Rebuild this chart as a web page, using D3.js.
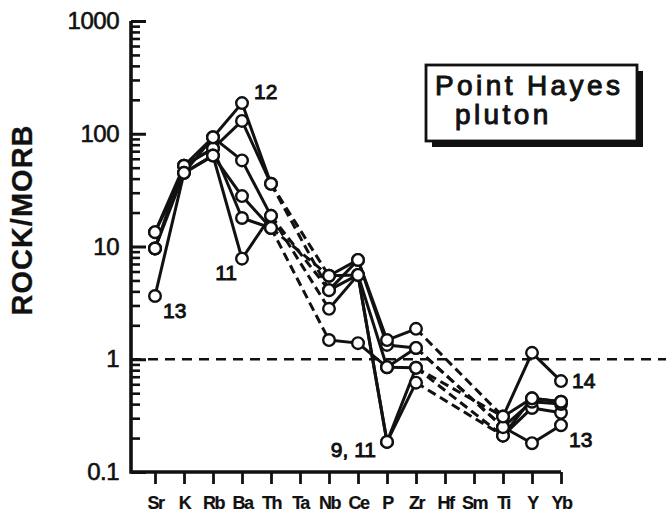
<!DOCTYPE html>
<html>
<head>
<meta charset="utf-8">
<script src="https://cdn.jsdelivr.net/npm/d3@7"></script>
<style>
  body { margin: 0; background: #fff; }
  svg { display: block; }
  text { stroke: #111; stroke-width: 0.6px; }
</style>
</head>
<body>
<div id="spider"></div>
<script>
//Elements along the x axis (Ta, Hf and Sm have no analyses)
var elements = ["Sr", "K", "Rb", "Ba", "Th", "Ta", "Nb", "Ce", "P", "Zr", "Hf", "Sm", "Ti", "Y", "Yb"];

//Rock / MORB ratios for each sample, in element order (null = not analysed)
var sample9  = [9.6, 52, 74, 17.9, 14.6, null, 5.5, 5.6, 0.185, 0.62, null, null, 0.21, 0.37, 0.335];
var sample10 = [9.6, 52, 74, 130, 36, null, 4.1, 7.6, 1.34, 1.26, null, null, 0.25, 0.42, 0.40];
var sample11 = [9.6, 45, 64, 7.8, 18.7, null, 4.1, 5.6, 0.185, 0.84, null, null, 0.21, 0.45, 0.42];
var sample12 = [13.4, 52, 93, 187, 36, null, 5.5, 7.6, 1.48, 1.86, null, null, 0.31, 0.45, 0.42];
var sample13 = [3.64, 45, 64, 28, 14.6, null, 1.48, 1.39, 0.85, 1.26, null, null, 0.25, 0.18, 0.26];
var sample14 = [13.4, 45, 93, 58, 18.7, null, 2.8, 5.6, 0.85, 0.84, null, null, 0.31, 1.14, 0.64];

var samples = [sample9, sample10, sample11, sample12, sample13, sample14];

//Axis tick values
var majorTicks = [0.1, 1, 10, 100, 1000];
var majorLabels = ["0.1", "1", "10", "100", "1000"];

//Sample annotations: text, sample it belongs to, element it sits next to
var noteText = ["12", "11", "13", "9, 11", "14", "13"];
var noteSample = [sample12, sample11, sample13, sample11, sample14, sample13];
var noteElement = ["Ba", "Ba", "Sr", "P", "Yb", "Yb"];

//Legend text
var legendLines = ["Point Hayes", "pluton"];

//Canvas dimensions
var width = 666,
    height = 514;

var svg = d3.select("#spider")
            .append("svg")
            .attr("width", width)
            .attr("height", height);

//Scales
var x = d3.scalePoint().domain(elements).range([155, 561]);
var y = d3.scaleLog().domain([0.1, 1000]).range([472, 21]);
var axisX = 131;

//Minor ticks 2..9 in each decade
var minorTicks = [];
majorTicks.slice(0, -1).forEach(function(t) {
  for (var k = 2; k <= 9; k++) minorTicks.push(t * k);
});

//Reference line at rock = MORB
svg.append("line")
   .attr("x1", axisX).attr("x2", width)
   .attr("y1", y(1)).attr("y2", y(1))
   .attr("stroke", "#111")
   .attr("stroke-width", 2.4)
   .attr("stroke-dasharray", "10,7");

//Y axis: ticks point inward
svg.append("g")
   .attr("transform", "translate(" + axisX + ",0)")
   .call(d3.axisRight(y).tickValues(minorTicks).tickSize(9).tickFormat(""))
   .call(function(g) { g.select(".domain").remove(); })
   .selectAll("line").attr("stroke", "#111").attr("stroke-width", 2.6);

svg.append("g")
   .attr("transform", "translate(" + axisX + ",0)")
   .call(d3.axisRight(y).tickValues(majorTicks).tickSize(15).tickFormat(""))
   .call(function(g) { g.select(".domain").remove(); })
   .selectAll("line").attr("stroke", "#111").attr("stroke-width", 3);

svg.selectAll(".ylabel")
   .data(majorTicks)
   .enter()
   .append("text")
   .attr("class", "ylabel")
   .attr("x", 119)
   .attr("y", function(d) { return y(d) + 8; })
   .attr("text-anchor", "end")
   .attr("font-family", "Liberation Sans, Arial, sans-serif")
   .attr("font-size", 24)
   .attr("letter-spacing", -0.5)
   .attr("fill", "#111")
   .text(function(d, i) { return majorLabels[i]; });

//X axis: ticks point outward
svg.append("g")
   .attr("transform", "translate(0," + y(0.1) + ")")
   .call(d3.axisBottom(x).tickSize(12).tickPadding(12))
   .call(function(g) { g.select(".domain").remove(); })
   .call(function(g) {
     g.selectAll("line").attr("stroke", "#111").attr("stroke-width", 2.8);
     g.selectAll("text")
      .attr("font-family", "Liberation Sans, Arial, sans-serif")
      .attr("font-weight", "bold")
      .attr("font-size", 18)
      .attr("letter-spacing", -1.5)
      .attr("fill", "#111")
      .style("stroke-width", "0.2px");
   });

//Axis lines
svg.append("path")
   .attr("d", "M" + axisX + "," + y(1000) + "V" + y(0.1) + "H" + x("Yb"))
   .attr("fill", "none")
   .attr("stroke", "#111")
   .attr("stroke-width", 3.6);

//Y axis title
svg.append("text")
   .attr("transform", "translate(32,220) rotate(-90)")
   .attr("text-anchor", "middle")
   .attr("font-family", "Liberation Sans, Arial, sans-serif")
   .attr("font-weight", "bold")
   .attr("font-size", 29)
   .attr("letter-spacing", 1)
   .attr("fill", "#111")
   .style("stroke-width", "0.3px")
   .text("ROCK/MORB");

//Build line segments: solid between neighbours, dashed across missing elements
var segments = [];
samples.forEach(function(s) {
  var prev = -1;
  s.forEach(function(v, i) {
    if (v == null) return;
    if (prev >= 0) segments.push({ a: prev, b: i, va: s[prev], vb: v, dashed: (i - prev) > 1 });
    prev = i;
  });
});

svg.selectAll(".seg")
   .data(segments)
   .enter()
   .append("line")
   .attr("class", "seg")
   .attr("x1", function(d) { return x(elements[d.a]); })
   .attr("y1", function(d) { return y(d.va); })
   .attr("x2", function(d) { return x(elements[d.b]); })
   .attr("y2", function(d) { return y(d.vb); })
   .attr("stroke", "#111")
   .attr("stroke-width", 3)
   .attr("stroke-dasharray", function(d) { return d.dashed ? "9,5" : null; });

//Sample points
var points = [];
samples.forEach(function(s) {
  s.forEach(function(v, i) { if (v != null) points.push({ el: elements[i], v: v }); });
});

svg.selectAll(".pt")
   .data(points)
   .enter()
   .append("circle")
   .attr("class", "pt")
   .attr("cx", function(d) { return x(d.el); })
   .attr("cy", function(d) { return y(d.v); })
   .attr("r", 5.8)
   .attr("fill", "#fff")
   .attr("stroke", "#111")
   .attr("stroke-width", 2.4);

//Sample numbers next to their points
var noteOffset = [[12, -4, "start"], [-5, 21, "end"], [8, 22, "start"], [-11, 15, "end"], [11, 7, "start"], [8, 22, "start"]];

svg.selectAll(".note")
   .data(noteText)
   .enter()
   .append("text")
   .attr("class", "note")
   .attr("x", function(d, i) { return x(noteElement[i]) + noteOffset[i][0]; })
   .attr("y", function(d, i) { return y(noteSample[i][elements.indexOf(noteElement[i])]) + noteOffset[i][1]; })
   .attr("text-anchor", function(d, i) { return noteOffset[i][2]; })
   .attr("font-family", "Liberation Sans, Arial, sans-serif")
   .attr("font-size", 21)
   .attr("fill", "#111")
   .style("stroke-width", "0.9px")
   .text(function(d) { return d; });

//Legend box with drop shadow
var legend = svg.append("g").attr("transform", "translate(426,65)");

legend.append("rect")
      .attr("x", 6).attr("y", 6)
      .attr("width", 211).attr("height", 76)
      .attr("fill", "#111");

legend.append("rect")
      .attr("width", 211).attr("height", 76)
      .attr("fill", "#fff")
      .attr("stroke", "#111")
      .attr("stroke-width", 2.8);

legend.selectAll("text")
      .data(legendLines)
      .enter()
      .append("text")
      .attr("x", function(d, i) { return i == 0 ? 9 : 29; })
      .attr("y", function(d, i) { return i == 0 ? 30 : 59; })
      .attr("font-family", "Liberation Sans, Arial, sans-serif")
      .attr("font-size", 28)
      .attr("letter-spacing", 3.4)
      .attr("fill", "#111")
      .style("stroke-width", "1px")
      .text(function(d) { return d; });
</script>
</body>
</html>
